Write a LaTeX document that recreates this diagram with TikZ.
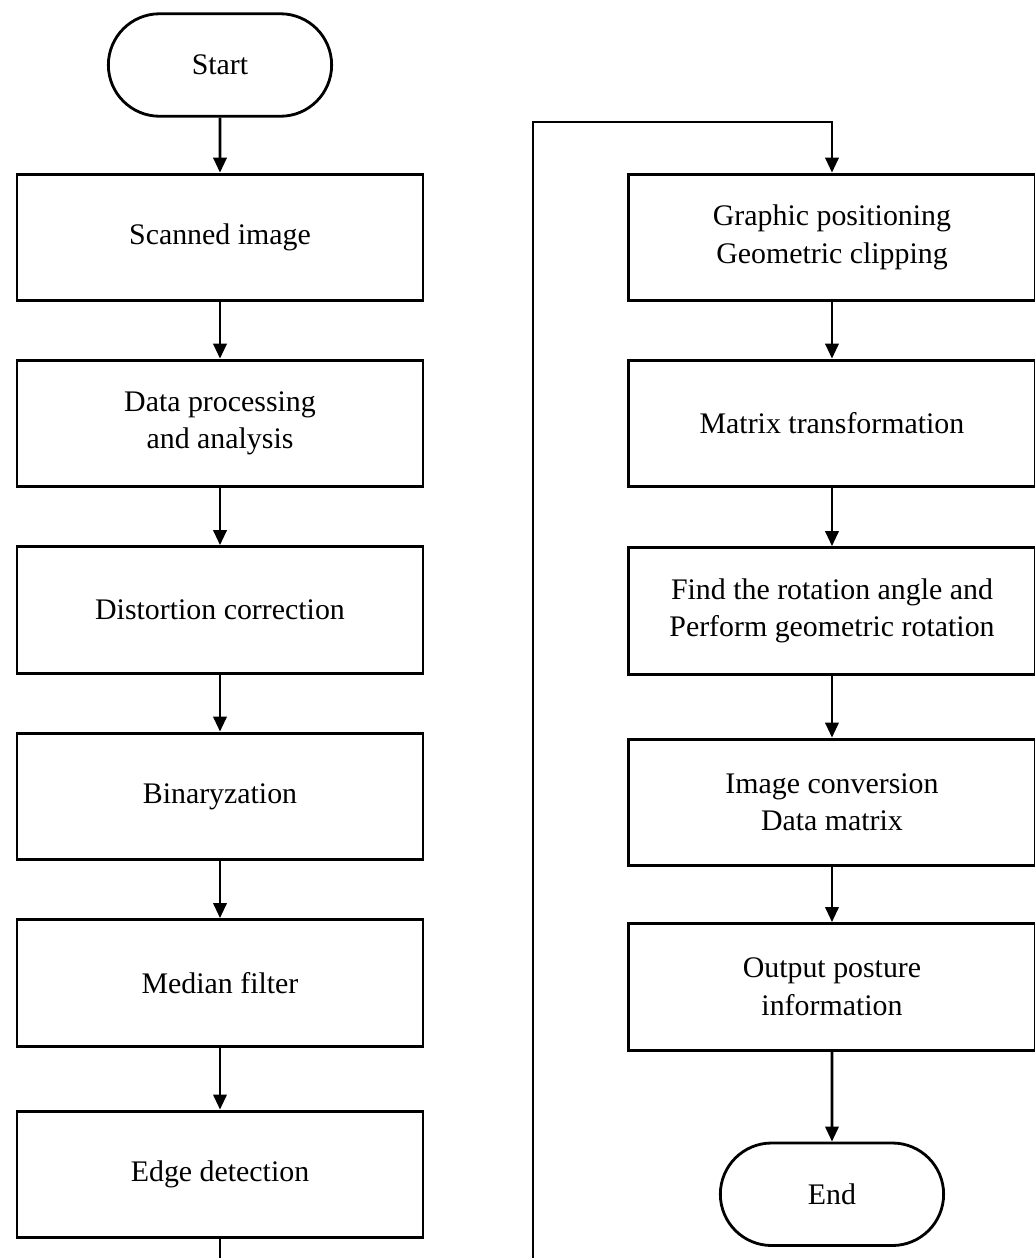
\documentclass[tikz,border=0pt]{standalone}
\usepackage{fontspec}
\setmainfont{Liberation Serif}
\usetikzlibrary{shapes.misc, arrows.meta, positioning, calc}

\begin{document}
\begin{tikzpicture}[node distance=1.2cm]
\tikzstyle{startstop}=[rounded rectangle, draw, line width=1.6pt, minimum width=4.7cm, minimum height=2.05cm, align=center, font=\fontsize{17}{21.4}\selectfont]
\tikzstyle{process}=[rectangle, draw, line width=1.7pt, minimum width=8.12cm, minimum height=2.53cm, align=center, font=\fontsize{17}{21.4}\selectfont]
\tikzstyle{arrow}=[-{Triangle[width=7.5pt,length=8.5pt]}, line width=1.6pt]

\clip (0,0) rectangle (20.7,-25.16);

\node[startstop] (start) at (4.4,-1.3) {Start};
\node[process, below=1.1cm of start] (scanned) {Scanned image};
\node[process, below=1.13cm of scanned] (dataproc) {Data processing\\ and analysis};
\node[process, below=1.14cm of dataproc] (distortion) {Distortion correction};
\node[process, below=1.14cm of distortion] (binary) {Binaryzation};
\node[process, below=1.14cm of binary] (median) {Median filter};
\node[process, below=1.24cm of median] (edge) {Edge detection};
\node[process, right=4.06cm of scanned] (graphic) {Graphic positioning\\ Geometric clipping};
\node[process, below=1.13cm of graphic] (matrix) {Matrix transformation};
\node[process, below=1.16cm of matrix] (rotation) {Find the rotation angle and\\ Perform geometric rotation};
\node[process, below=1.24cm of rotation] (conversion) {Image conversion\\ Data matrix};
\node[process, below=1.1cm of conversion] (output) {Output posture\\ information};
\node[startstop, below=1.8cm of output] (end) {End};
\coordinate (loop) at (10.66,-2.44);

\draw[arrow] (start) -- (scanned);
\draw[arrow] (scanned) -- (dataproc);
\draw[arrow] (dataproc) -- (distortion);
\draw[arrow] (distortion) -- (binary);
\draw[arrow] (binary) -- (median);
\draw[arrow] (median) -- (edge);
\draw[arrow] (edge.south) -- ++(0,-1.2) -| (loop) -| (graphic.north);
\draw[arrow] (graphic) -- (matrix);
\draw[arrow] (matrix) -- (rotation);
\draw[arrow] (rotation) -- (conversion);
\draw[arrow] (conversion) -- (output);
\draw[arrow] (output) -- (end);

\end{tikzpicture}
\end{document}
